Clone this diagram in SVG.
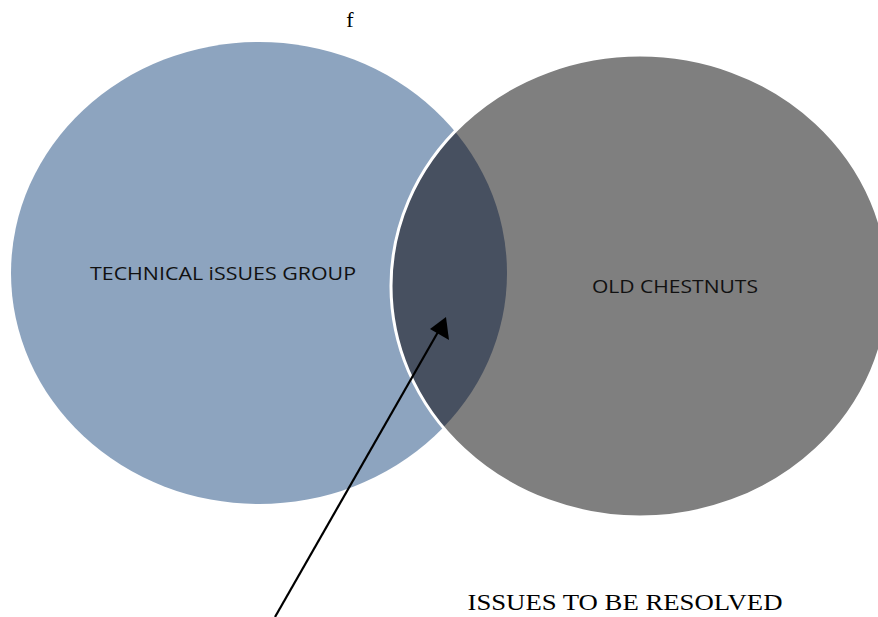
<svg xmlns="http://www.w3.org/2000/svg" width="878" height="617" viewBox="0 0 878 617">
<style>
.sans{font-family:"Open Sans","Liberation Sans",sans-serif;font-size:19px;fill:#111;}
.serif{font-family:"Liberation Serif",serif;fill:#000;}
</style>
<defs>
<clipPath id="rightClip"><ellipse cx="640" cy="286" rx="249" ry="231"/></clipPath>
</defs>
<rect width="878" height="617" fill="#fff"/>
<text class="serif" x="350" y="27" font-size="22" text-anchor="middle">f</text>
<g id="technical-issues-group">
<ellipse cx="259" cy="273" rx="248" ry="231" fill="#8da4bf"/>
<text class="sans" x="223" y="280" text-anchor="middle" textLength="266" lengthAdjust="spacingAndGlyphs">TECHNICAL iSSUES GROUP</text>
</g>
<g id="old-chestnuts">
<ellipse cx="640" cy="286" rx="249" ry="231" fill="#7f7f7f"/>
<ellipse cx="259" cy="273" rx="248" ry="231" fill="#475060" clip-path="url(#rightClip)"/>
<ellipse cx="640" cy="286" rx="249" ry="231" fill="none" stroke="#fff" stroke-width="3"/>
<text class="sans" x="675" y="293" text-anchor="middle" textLength="166" lengthAdjust="spacingAndGlyphs">OLD CHESTNUTS</text>
</g>
<g id="issues-to-be-resolved">
<text class="serif" x="625" y="610" font-size="23" text-anchor="middle" textLength="315" lengthAdjust="spacingAndGlyphs">ISSUES TO BE RESOLVED</text>
</g>
<g id="connectors">
<line x1="275" y1="617" x2="438" y2="332" stroke="#000" stroke-width="2.2"/>
<path d="M446,317 L449,340 L430,329 z" fill="#000"/>
</g>
</svg>
